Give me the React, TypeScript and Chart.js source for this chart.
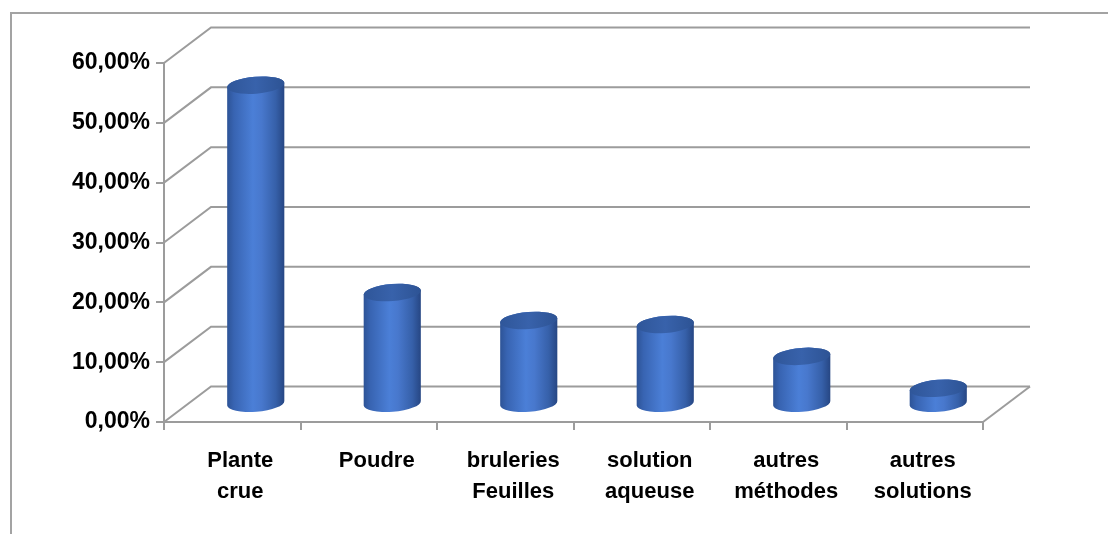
import React, { useEffect, useRef } from "react";
import { Chart, registerables } from "chart.js";

Chart.register(...registerables);

// ---- data ----
const categories: string[][] = [
  ["Plante", "crue"],
  ["Poudre"],
  ["bruleries", "Feuilles"],
  ["solution", "aqueuse"],
  ["autres", "méthodes"],
  ["autres", "solutions"],
];
const values: number[] = [53.33, 18.67, 14.0, 13.33, 8.0, 2.67];
const yMin = 0;
const yMax = 60;
const yStep = 10;

// ---- style ----
const DEPTH_X = 47;
const DEPTH_Y = 35.5;
const GRID = "#9c9c9c";
const FONT = '"Liberation Sans", Arial, sans-serif';

const fmt = (v: number) => v.toFixed(2).replace(".", ",") + "%";

const wall3d = {
  id: "wall3d",
  beforeDraw(chart: any) {
    const { ctx, width, height } = chart;
    ctx.save();
    ctx.strokeStyle = "#a3a3a3";
    ctx.lineWidth = 2;
    ctx.beginPath();
    ctx.moveTo(11, height);
    ctx.lineTo(11, 13);
    ctx.lineTo(width, 13);
    ctx.stroke();
    ctx.restore();
  },
  beforeDatasetsDraw(chart: any) {
    const { ctx, chartArea: a, scales } = chart;
    const y = scales.y;
    ctx.save();
    ctx.strokeStyle = GRID;
    ctx.lineWidth = 2;
    y.ticks.forEach((t: any) => {
      const py = y.getPixelForValue(t.value);
      ctx.beginPath();
      ctx.moveTo(a.left, py);
      ctx.lineTo(a.left + DEPTH_X, py - DEPTH_Y);
      ctx.lineTo(a.right + DEPTH_X, py - DEPTH_Y);
      ctx.stroke();
    });
    ctx.beginPath();
    ctx.moveTo(a.right, a.bottom);
    ctx.lineTo(a.right + DEPTH_X, a.bottom - DEPTH_Y);
    ctx.stroke();
    ctx.restore();
  },
  afterDatasetsDraw(chart: any) {
    const { ctx } = chart;
    const meta = chart.getDatasetMeta(0);
    const rot = -0.08;
    meta.data.forEach((bar: any) => {
      const p = bar.getProps(["x", "y", "base", "width"], true);
      const cx = p.x + DEPTH_X / 2;
      const yTop = p.y - DEPTH_Y / 2;
      const yBot = p.base - DEPTH_Y / 2;
      const rx = p.width / 2;
      const ry = 8.5;
      ctx.save();
      // body
      const g = ctx.createLinearGradient(cx - rx, 0, cx + rx, 0);
      g.addColorStop(0, "#2d5396");
      g.addColorStop(0.12, "#3864b2");
      g.addColorStop(0.45, "#4b7fd7");
      g.addColorStop(0.6, "#4878cd");
      g.addColorStop(0.85, "#3660a9");
      g.addColorStop(1, "#264683");
      ctx.beginPath();
      ctx.ellipse(cx, yBot, rx, ry, rot, 0, Math.PI, false);
      ctx.ellipse(cx, yTop, rx, ry, rot, Math.PI, 2 * Math.PI, false);
      ctx.closePath();
      ctx.fillStyle = g;
      ctx.fill();
      // top cap
      const gt = ctx.createLinearGradient(cx - rx, yTop, cx + rx, yTop);
      gt.addColorStop(0, "#2f5699");
      gt.addColorStop(0.5, "#3862ab");
      gt.addColorStop(1, "#2d5394");
      ctx.beginPath();
      ctx.ellipse(cx, yTop, rx, ry, rot, 0, 2 * Math.PI);
      ctx.fillStyle = gt;
      ctx.fill();
      ctx.restore();
    });
  },
};

export default function App() {
  const ref = useRef<HTMLCanvasElement | null>(null);

  useEffect(() => {
    if (!ref.current) return;
    const chart = new Chart(ref.current, {
      type: "bar",
      data: {
        labels: categories,
        datasets: [
          {
            data: values,
            backgroundColor: "rgba(0,0,0,0)",
            borderWidth: 0,
            categoryPercentage: 1,
            barPercentage: 0.42,
          },
        ],
      },
      options: {
        responsive: false,
        animation: false,
        layout: { padding: { top: 63, right: 125, left: 0, bottom: 0 } },
        plugins: {
          legend: { display: false },
          tooltip: { enabled: false },
        },
        scales: {
          x: {
            afterFit: (s: any) => {
              s.height = 112;
            },
            grid: {
              display: true,
              drawOnChartArea: false,
              drawTicks: true,
              tickLength: 8,
              color: GRID,
              lineWidth: 2,
              offset: true,
            },
            border: { display: true, color: GRID, width: 2 },
            ticks: {
              color: "#000",
              padding: 16,
              labelOffset: 8,
              maxRotation: 0,
              autoSkip: false,
              font: { family: FONT, size: 22, weight: "bold", lineHeight: 1.4 },
            },
          },
          y: {
            min: yMin,
            max: yMax,
            afterFit: (s: any) => {
              s.width = 164;
            },
            grid: {
              display: true,
              drawOnChartArea: false,
              drawTicks: true,
              tickLength: 8,
              color: GRID,
              lineWidth: 2,
            },
            border: { display: true, color: GRID, width: 2 },
            ticks: {
              stepSize: yStep,
              color: "#000",
              padding: 6,
              callback: (v: any) => fmt(Number(v)),
              font: { family: FONT, size: 23, weight: "bold" },
            },
          },
        },
      },
      plugins: [wall3d],
    });
    return () => chart.destroy();
  }, []);

  return (
    <div style={{ position: "fixed", left: 0, top: 0, width: 1108, height: 534, background: "#fff" }}>
      <canvas ref={ref} width={1108} height={534} style={{ display: "block" }} />
    </div>
  );
}
